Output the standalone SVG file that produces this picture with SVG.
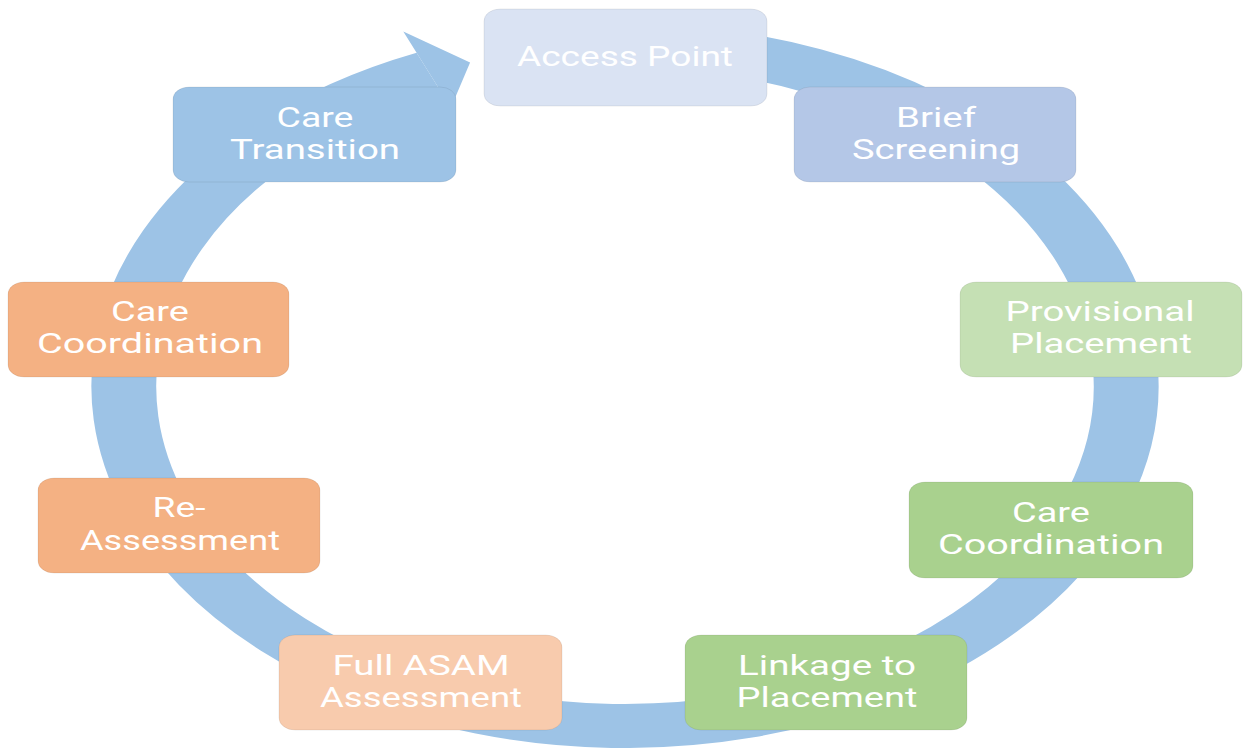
<svg xmlns="http://www.w3.org/2000/svg" width="1244" height="748" viewBox="0 0 1244 748">
  <style>
    .box { stroke: #000; stroke-opacity: 0.07; stroke-width: 1; }
    .lbl { font-family: Roboto, "Open Sans", "Liberation Sans", sans-serif; font-size: 27px; fill: #ffffff; text-anchor: middle; }
    .ring { fill: none; stroke: #9dc3e6; stroke-width: 44; }
    .head { fill: #9dc3e6; }
  </style>

  <!-- circular flow arrow: a circle stretched horizontally, ending in an arrowhead near the top -->
  <g id="connectors">
    <g transform="translate(625,386) scale(1.474,1)">
      <path class="ring" d="M -29.63 -338.7 A 340 340 0 1 1 -132.8 -313.0"/>
      <polygon class="head" points="-150.4,-354.4 -105.1,-323.4 -122.6,-262.8 -115.3,-271.5 -132.8,-313.0"/>
    </g>
  </g>

  <g id="access-point">
    <rect class="box" x="484" y="9" width="283" height="97" rx="16" ry="12" fill="#dae3f3"/>
    <text class="lbl" x="625" y="66" textLength="216" lengthAdjust="spacingAndGlyphs">Access Point</text>
  </g>

  <g id="brief-screening">
    <rect class="box" x="794" y="87" width="282" height="95" rx="16" ry="12" fill="#b4c7e7"/>
    <text class="lbl" x="936" y="127" textLength="80" lengthAdjust="spacingAndGlyphs">Brief</text>
    <text class="lbl" x="936" y="159" textLength="168" lengthAdjust="spacingAndGlyphs">Screening</text>
  </g>

  <g id="provisional-placement">
    <rect class="box" x="960" y="282" width="282" height="95" rx="16" ry="12" fill="#c5e0b4"/>
    <text class="lbl" x="1100" y="321" textLength="189" lengthAdjust="spacingAndGlyphs">Provisional</text>
    <text class="lbl" x="1101" y="353" textLength="182" lengthAdjust="spacingAndGlyphs">Placement</text>
  </g>

  <g id="care-coordination-right">
    <rect class="box" x="909" y="482" width="284" height="96" rx="16" ry="12" fill="#a9d18e"/>
    <text class="lbl" x="1051" y="522" textLength="78" lengthAdjust="spacingAndGlyphs">Care</text>
    <text class="lbl" x="1051" y="554" textLength="226" lengthAdjust="spacingAndGlyphs">Coordination</text>
  </g>

  <g id="linkage-to-placement">
    <rect class="box" x="685" y="635" width="282" height="95" rx="16" ry="12" fill="#a9d18e"/>
    <text class="lbl" x="827" y="675" textLength="178" lengthAdjust="spacingAndGlyphs">Linkage to</text>
    <text class="lbl" x="827" y="707" textLength="181" lengthAdjust="spacingAndGlyphs">Placement</text>
  </g>

  <g id="full-asam-assessment">
    <rect class="box" x="279" y="635" width="283" height="95" rx="16" ry="12" fill="#f8cbad"/>
    <text class="lbl" x="421" y="675" textLength="177" lengthAdjust="spacingAndGlyphs">Full ASAM</text>
    <text class="lbl" x="421" y="707" textLength="202" lengthAdjust="spacingAndGlyphs">Assessment</text>
  </g>

  <g id="re-assessment">
    <rect class="box" x="38" y="478" width="282" height="95" rx="16" ry="12" fill="#f4b183"/>
    <text class="lbl" x="179" y="517" textLength="53" lengthAdjust="spacingAndGlyphs">Re-</text>
    <text class="lbl" x="180" y="550" textLength="200" lengthAdjust="spacingAndGlyphs">Assessment</text>
  </g>

  <g id="care-coordination-left">
    <rect class="box" x="8" y="282" width="281" height="95" rx="16" ry="12" fill="#f4b183"/>
    <text class="lbl" x="150" y="321" textLength="78" lengthAdjust="spacingAndGlyphs">Care</text>
    <text class="lbl" x="150" y="353" textLength="226" lengthAdjust="spacingAndGlyphs">Coordination</text>
  </g>

  <g id="care-transition">
    <rect class="box" x="173" y="87" width="283" height="95" rx="16" ry="12" fill="#9dc3e6"/>
    <text class="lbl" x="315" y="127" textLength="77" lengthAdjust="spacingAndGlyphs">Care</text>
    <text class="lbl" x="315" y="159" textLength="170" lengthAdjust="spacingAndGlyphs">Transition</text>
  </g>
</svg>
